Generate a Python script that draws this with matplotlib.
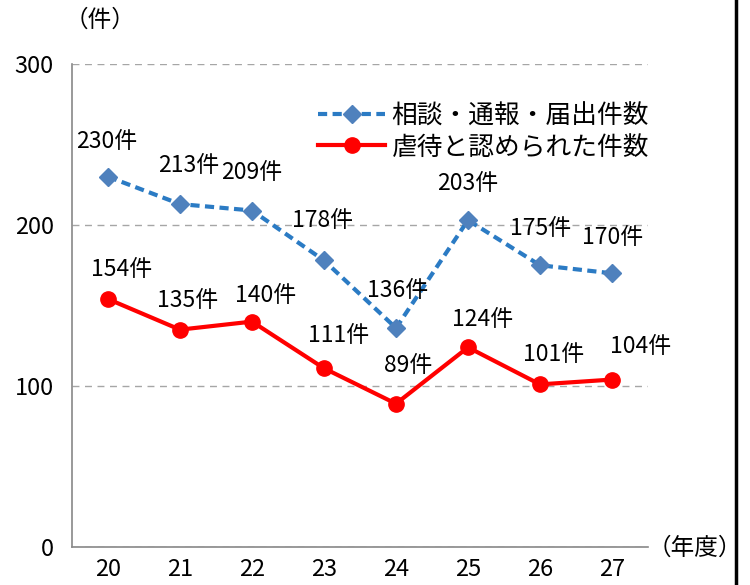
import matplotlib
matplotlib.use("Agg")
import matplotlib.pyplot as plt
from matplotlib.lines import Line2D

plt.rcParams['font.family'] = ['Noto Sans CJK JP', 'DejaVu Sans']

years = ['20', '21', '22', '23', '24', '25', '26', '27']
consult = [230, 213, 209, 178, 136, 203, 175, 170]
abuse = [154, 135, 140, 111, 89, 124, 101, 104]

# label offsets in pixels (dx, dy)
consult_off = [(-1, 35), (9, 39), (0, 38), (-2, 40), (2, 38), (0, 37), (1, 37), (1, 36)]
abuse_off = [(14, 30), (8, 29), (14, 26), (15, 33), (12, 38), (15, 28), (14, 30), (29, 33)]

fig = plt.figure(figsize=(7.5, 5.85), dpi=100)
ax = fig.add_axes([72 / 750, 38 / 585, 576 / 750, 483 / 585])

x = list(range(len(years)))
ax.plot(x, consult, color='#2b7bc4', lw=3, ls=(0, (2.2, 1.3)), marker='D',
        ms=9, mfc='#4f81bd', mec='#4f81bd', label='相談・通報・届出件数', zorder=3)
ax.plot(x, abuse, color='#ff0000', lw=3, marker='o', ms=11,
        mfc='#ff0000', mec='#ff0000', label='虐待と認められた件数', zorder=3)

for i in x:
    ax.annotate(f'{consult[i]}件', (i, consult[i]), xytext=consult_off[i],
                textcoords='offset pixels', ha='center', va='center', fontsize=16.5)
    ax.annotate(f'{abuse[i]}件', (i, abuse[i]), xytext=abuse_off[i],
                textcoords='offset pixels', ha='center', va='center', fontsize=16.5)

ax.set_xlim(-0.5, 7.5)
ax.set_ylim(0, 300)
ax.set_yticks([0, 100, 200, 300])
ax.set_xticks(x)
ax.set_xticklabels(years)
ax.tick_params(length=0, labelsize=17, pad=8)
ax.tick_params(axis='y', pad=13)
ax.yaxis.grid(True, color='#a6a6a6', ls=(0, (5, 4)), lw=1)
ax.set_axisbelow(True)
for s in ['top', 'right']:
    ax.spines[s].set_visible(False)
for s in ['left', 'bottom']:
    ax.spines[s].set_color('#888888')
    ax.spines[s].set_linewidth(1.2)

leg = ax.legend(loc='upper left', bbox_to_anchor=(0.41, 0.94), frameon=False,
                fontsize=18.5, handlelength=2.6, handletextpad=0.25,
                labelspacing=0.2, borderaxespad=0)

fig.text(100 / 750, 1 - 20 / 585, '（件）', ha='center', va='center', fontsize=17)
fig.text(695 / 750, 1 - 548 / 585, '（年度）', ha='center', va='center', fontsize=17)

fig.add_artist(Line2D([736 / 750, 736 / 750], [0, 1], color='black', lw=2.5,
                      transform=fig.transFigure))

fig.savefig('out.png', dpi=100)
